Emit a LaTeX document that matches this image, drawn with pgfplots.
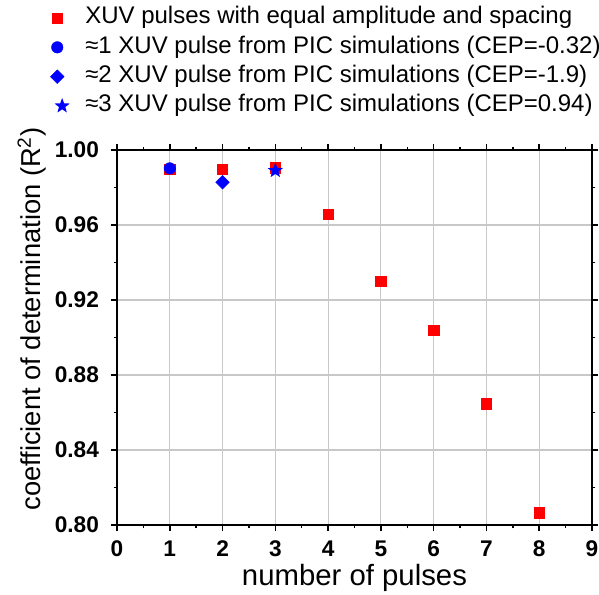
\documentclass[border=0pt]{standalone}
\usepackage{pgfplots}
\pgfplotsset{compat=1.18}
\usepackage{fontspec}
\setmainfont{Liberation Sans}
\usetikzlibrary{shapes.geometric}
\definecolor{gridc}{RGB}{200,200,200}
\pgfdeclareplotmark{fstar}{\node[star,star points=5,star point ratio=2.4,fill,draw=none,inner sep=0pt,text height={},text depth={},text width={},minimum size=2.6\pgfplotmarksize]{};}
\begin{document}
\begin{tikzpicture}
\useasboundingbox (-87.75pt,-51.75pt) rectangle (361.5pt,393.75pt);
\begin{axis}[
  scale only axis,
  width=356.25pt, height=281.25pt,
  xmin=0, xmax=9, ymin=0.80, ymax=1.00,
  xtick={0,1,...,9},
  ytick={0.80,0.84,0.88,0.92,0.96,1.00},
  minor x tick num=1, minor y tick num=1,
  tick align=outside,
  major tick length=4.5pt, minor tick length=2.5pt,
  every tick/.style={black, line width=1.1pt},
  axis line style={line width=1.2pt},
  grid=major,
  grid style={gridc, line width=0.8pt},
  /pgf/number format/assume math mode=true,
  ticklabel style={font=\fontsize{17}{17}\selectfont\bfseries},
  yticklabel style={/pgf/number format/.cd, fixed, fixed zerofill, precision=2, /tikz/.cd, xshift=-5.5pt},
  xticklabel style={yshift=-4pt},
  xlabel={number of pulses},
  ylabel={coefficient of determination (R\textsuperscript{2})},
  xlabel style={font=\fontsize{22}{22}\selectfont, at={(axis description cs:0.5,-0.1413)}, anchor=center},
  ylabel style={font=\fontsize{20.5}{20.5}\selectfont, at={(axis description cs:-0.179,0.549)}, anchor=center},
  legend cell align=left,
  legend image code/.code={\draw[#1, only marks] plot coordinates {(0pt,0pt)}; \path[draw=none,fill=none] (-8pt,0pt) -- (21pt,0pt);},
  legend style={at={(axis description cs:0,1)}, anchor=north west, xshift=-53pt, yshift=107.8pt,
    draw=none, fill=none, inner sep=0pt, row sep=4.8pt,
    font=\fontsize{18}{18}\selectfont,
    nodes={inner sep=0pt, text height=13pt, text depth=4.2pt}},
]
\addplot[only marks, mark=square*, mark size=3.9pt, color=red] coordinates {
(1,0.9897) (2,0.9897) (3,0.9905) (4,0.9657) (5,0.9300) (6,0.9040) (7,0.8647) (8,0.8066)};
\addlegendentry{XUV pulses with equal amplitude and spacing}
\addplot[only marks, mark=*, mark size=4.3pt, color=blue] coordinates {(1,0.9902)};
\addlegendentry{≈1 XUV pulse from PIC simulations (CEP=-0.32)}
\addplot[only marks, mark=square*, mark size=3.6pt, mark options={rotate=45}, color=blue] coordinates {(2,0.9828)};
\addlegendentry{≈2 XUV pulse from PIC simulations (CEP=-1.9)}
\addplot[only marks, mark=fstar, mark size=4.6pt, color=blue] coordinates {(3,0.9890)};
\addlegendentry{≈3 XUV pulse from PIC simulations (CEP=0.94)}
\end{axis}
\end{tikzpicture}
\end{document}
